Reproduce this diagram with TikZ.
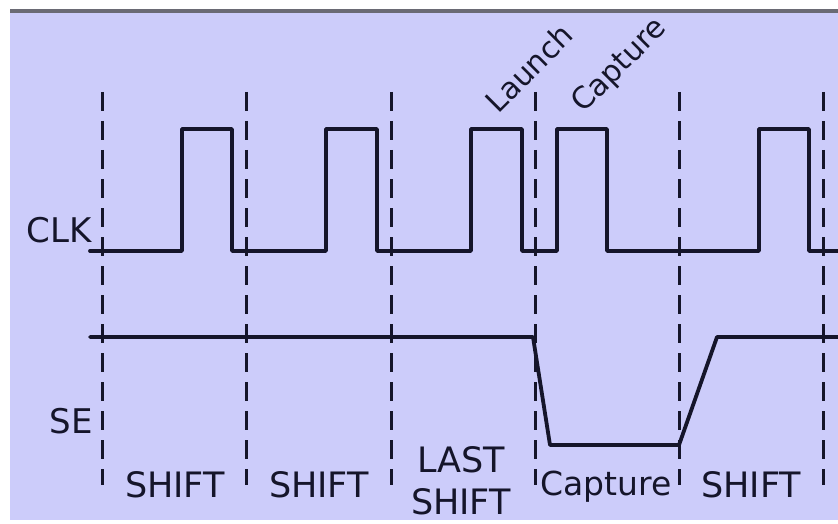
\documentclass[tikz,border=0pt]{standalone}
\usepackage{fontspec}
\setmainfont{DejaVu Sans}
\definecolor{bg}{HTML}{CCCCFA}
\definecolor{ink}{HTML}{15152A}
\definecolor{topline}{HTML}{6A6A74}
\begin{document}
\begin{tikzpicture}[x=1pt,y=-1pt,
  wave/.style={draw=ink,line width=3.8pt,line join=round,line cap=round},
  divider/.style={draw=ink,line width=3pt,dash pattern=on 19pt off 10pt},
  lbl/.style={text=ink,font=\fontsize{35}{38}\selectfont,inner sep=0pt},
  siglbl/.style={text=ink,font=\fontsize{34}{36}\selectfont,inner sep=0pt,anchor=base east},
  rot/.style={text=ink,font=\fontsize{30}{32}\selectfont,inner sep=0pt,rotate=45}]
\useasboundingbox (0,0) rectangle (838,524);
\fill[white] (0,0) rectangle (838,524);
\fill[bg] (10,12) rectangle (838,520);
\draw[topline,line width=3.5pt] (10,11) -- (838,11);
% dividers
\foreach \x/\n in {102/a,246/b,391/c,535/d,679/e,823/f}{
  \coordinate (t\n) at (\x,92);
  \coordinate (b\n) at (\x,485);
  \draw[divider] (t\n) -- (b\n);
}
% CLK waveform
\draw[wave] (90,251) -- (182,251) -- (182,129) -- (232,129) -- (232,251)
  -- (326,251) -- (326,129) -- (377,129) -- (377,251)
  -- (471,251) -- (471,129) -- (522,129) -- (522,251)
  -- (557,251) -- (557,129) -- (607,129) -- (607,251)
  -- (759,251) -- (759,129) -- (809,129) -- (809,251) -- (840,251);
% SE waveform
\draw[wave] (90,337) -- (533,337) -- (550,445) -- (679,445) -- (717,337) -- (840,337);
% labels
\node[siglbl] (clk) at (92,242) {CLK};
\node[siglbl] (se) at (93,433) {SE};
\node[lbl,anchor=base] (s1) at (175,497) {SHIFT};
\node[lbl,anchor=base] (s2) at (319,497) {SHIFT};
\node[lbl,anchor=base] (ls1) at (461,472) {LAST};
\node[lbl,anchor=base] (ls2) at (461,514) {SHIFT};
\node[lbl,anchor=base,font=\fontsize{33}{36}\selectfont] (cap) at (606,495) {Capture};
\node[lbl,anchor=base] (s3) at (751,497) {SHIFT};
\node[rot] (launch) at (529,68) {Launch};
\node[rot] (capt) at (620,66) {Capture};
\end{tikzpicture}
\end{document}
